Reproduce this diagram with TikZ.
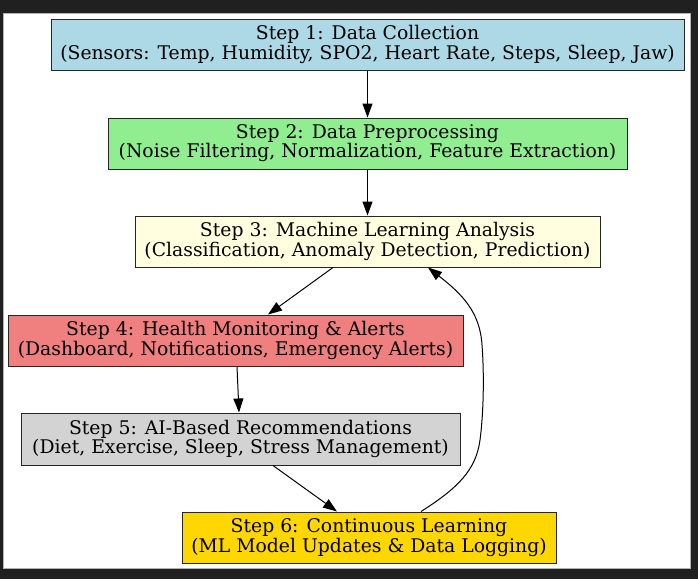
\documentclass[tikz,border=0pt]{standalone}
\usepackage{fontspec}
\setmainfont{DejaVu Serif}
\usetikzlibrary{arrows.meta,calc}
\definecolor{framedark}{HTML}{202020}
\definecolor{stepblue}{HTML}{ADD8E6}
\definecolor{stepgreen}{HTML}{90EE90}
\definecolor{stepyellow}{HTML}{FFFFE0}
\definecolor{stepcoral}{HTML}{F08080}
\definecolor{stepgray}{HTML}{D3D3D3}
\definecolor{stepgold}{HTML}{FFD700}
\begin{document}
\begin{tikzpicture}[x=0.75pt,y=0.75pt]
\tikzstyle{stepbox}=[draw=black!85, line width=0.75pt, inner sep=0pt, align=center, font=\fontsize{14.1}{14.4}\selectfont]
\tikzstyle{flow}=[black, line width=0.75pt, -{Triangle[length=10.5pt,width=7.5pt]}]
\useasboundingbox (0,0) rectangle (698,-579);
\fill [framedark] (0,0) rectangle (698,-579);
\fill [white] (3,-13) rectangle (690,-568);
\draw [black!30, line width=0.5pt] (3,-13) rectangle (690,-568);
\node (b1) at (367.5,-44.5) [stepbox, fill=stepblue, minimum width=633*0.75pt, minimum height=51*0.75pt]
  {Step 1: Data Collection\\(Sensors: Temp, Humidity, SPO2, Heart Rate, Steps, Sleep, Jaw)};
\node (b2) at (367.5,-143.5) [stepbox, fill=stepgreen, minimum width=519*0.75pt, minimum height=51*0.75pt]
  {Step 2: Data Preprocessing\\(Noise Filtering, Normalization, Feature Extraction)};
\node (b3) at (367.5,-241.5) [stepbox, fill=stepyellow, minimum width=465*0.75pt, minimum height=51*0.75pt]
  {Step 3: Machine Learning Analysis\\(Classification, Anomaly Detection, Prediction)};
\node (b4) at (235.5,-340.5) [stepbox, fill=stepcoral, minimum width=455*0.75pt, minimum height=51*0.75pt]
  {Step 4: Health Monitoring \& Alerts\\(Dashboard, Notifications, Emergency Alerts)};
\node (b5) at (240.5,-439) [stepbox, fill=stepgray, minimum width=439*0.75pt, minimum height=52*0.75pt]
  {Step 5: AI-Based Recommendations\\(Diet, Exercise, Sleep, Stress Management)};
\node (b6) at (369,-537.5) [stepbox, fill=stepgold, minimum width=374*0.75pt, minimum height=51*0.75pt]
  {Step 6: Continuous Learning\\(ML Model Updates \& Data Logging)};
% forward steps
\draw [flow] (b1) -- (b2);
\draw [flow] (b2) -- (b3);
\draw [flow] ($(b3.south)+(-34.5,0)$) -- ($(b4.north)+(32.5,0)$);
\draw [flow] ($(b4.south)+(1.5,0)$) -- ($(b5.north)+(-1.5,0)$);
\draw [flow] ($(b5.south)+(32.5,0)$) -- ($(b6.north)+(-32,0)$);
% feedback loop
\draw [flow] ($(b6.north)+(52,0)$) .. controls (458,-488) and (476,-470) .. (480,-440)
  .. controls (484,-410) and (484,-370) .. (482,-345)
  .. controls (480,-312) and (462,-294) .. ($(b3.south)+(60.5,0)$);
\end{tikzpicture}
\end{document}
